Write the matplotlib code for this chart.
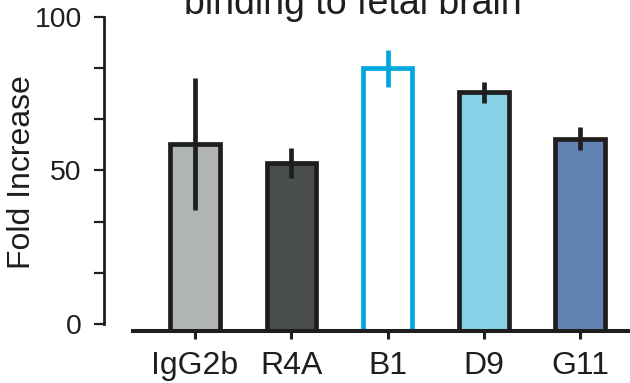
import numpy as np
import matplotlib
matplotlib.use("Agg")
import matplotlib.pyplot as plt

plt.rcParams['font.family'] = ['Liberation Sans', 'DejaVu Sans']

# fold increase per antibody, mean and error
groups = ['IgG2b', 'R4A', 'B1', 'D9', 'G11']
fold = [58.6, 52.4, 83.2, 75.4, 60.3]
err = [21.4, 4.9, 6.0, 3.5, 3.7]
fills = ['#b0b5b4', '#4a4f4e', 'white', '#87d1e6', '#6382b4']
edges = ['#1e1e1e', '#1e1e1e', '#00a6e0', '#1e1e1e', '#1e1e1e']

y_floor = -2.1   # x axis sits a little below zero

fig = plt.figure(figsize=(6.3, 3.83), dpi=100)
ax = fig.add_axes([0.2111, 0.1366, 0.7889, 0.8634])

x = np.arange(len(groups))
vals = np.array(fold)
for i in range(len(groups)):
    ax.bar(x[i], vals[i] - y_floor, bottom=y_floor, width=0.515,
           color=fills[i], edgecolor=edges[i], linewidth=3.4, zorder=2)
    ax.errorbar(x[i], vals[i], yerr=err[i], fmt='none', ecolor=edges[i],
                elinewidth=3.4, capsize=0, zorder=3)

ax.set_xlim(-0.645, 4.52)
ax.set_ylim(y_floor, 105.4)

for s in ['top', 'right']:
    ax.spines[s].set_visible(False)
ax.spines['left'].set_position(('outward', 20.7))
ax.spines['left'].set_bounds(0, 100)
ax.spines['left'].set_linewidth(2.0)
ax.spines['left'].set_color('#1e1e1e')
ax.spines['bottom'].set_linewidth(2.9)
ax.spines['bottom'].set_color('#1e1e1e')

ax.set_yticks(np.linspace(0, 100, 7))
ax.set_yticklabels(['0', '', '', '50', '', '', '100'])
ax.tick_params(axis='y', length=7.2, width=1.6, color='#1e1e1e',
               labelsize=20.4, pad=9, labelcolor='#1e1e1e')
ax.set_xticks(x)
ax.set_xticklabels(groups)
ax.tick_params(axis='x', length=5.5, width=2.2, color='#1e1e1e',
               labelsize=23, pad=9, labelcolor='#1e1e1e')

fig.text(21.6 / 630, 1 - 172 / 383, 'Fold Increase', fontsize=23,
         rotation=90, ha='center', va='center', color='#1e1e1e')
fig.text(353 / 630, 1 - 14 / 383, 'binding to fetal brain', fontsize=27,
         ha='center', va='baseline', color='#1e1e1e')

fig.savefig('out.png', dpi=100)
